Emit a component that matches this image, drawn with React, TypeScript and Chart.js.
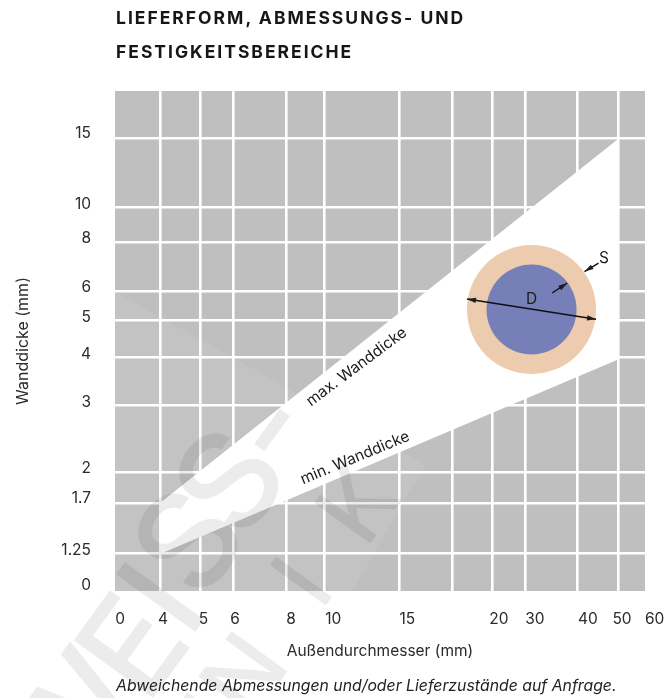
import React, { useEffect, useRef } from "react";
import { Chart, registerables, LogarithmicScale } from "chart.js";

// ---- data ----
const xTickValues = [3.11, 4, 5, 6, 8, 10, 15, 20, 25, 30, 40, 50, 58];
const xTickLabels = ["0", "4", "5", "6", "8", "10", "15", "", "20", "30", "40", "50", "60"];
const yTickValues = [1, 1.25, 1.7, 2, 3, 4, 5, 6, 8, 10, 15];
const yTickLabels = ["0", "1.25", "1.7", "2", "3", "4", "5", "6", "8", "10", "15"];
const maxWall = [
  { x: 4, y: 1.7 },
  { x: 50, y: 15 },
];
const minWall = [
  { x: 4, y: 1.25 },
  { x: 50, y: 4 },
];
const tubeCentre = [{ x: 31, y: 5.4 }];
const maxLabelAt = { x: 11.8, y: 3.83 };
const minLabelAt = { x: 11.7, y: 2.22 };

// ---- layout tuning ----
const gridNudge: Record<string, number[]> = {
  x: [0, 0, -0.9, -1.2, -0.3, -2.6, -1, 0, -0.2, -0.3, 0, 0, 0],
  y: [0, -0.5, 0.9, -2.6, -1.9, -2.3, -1.7, -0.7, -1.6, 1, -0.3],
};
const labelNudge: Record<string, number[]> = {
  x: [0.3, -2.5, -1.3, -2.7, 0.3, 1.3, 0.5, 0, -3, 0, 0.4, -5.7, 0],
  y: [-6, -3, -4.6, -4.4, -3.7, -3, -3.7, -3.6, -3.6, -3.4, -5],
};
const FONT = "Inter, 'Noto Sans', sans-serif";
const INK = "#2b2b2b";
const TEXT_SIZE = 15.5;

// Faint watermark letters lying over the whole picture.
const markLarge: [string, number, number][] = [
  ["W", 72, 722],
  ["E", 131, 645],
  ["I", 160, 597],
  ["S", 187, 540],
  ["S", 228, 480],
];
const markHyphen: [string, number, number] = ["-", 275, 432];
const markSmall: [string, number, number][] = [
  ["H", 199, 735],
  ["N", 243, 674],
  ["I", 301, 581],
  ["K", 357, 503],
];

class NudgedLogScale extends (LogarithmicScale as any) {
  static id = "nudgedLog";
  static defaults = (LogarithmicScale as any).defaults;
  getPixelForTick(i: number) {
    return super.getPixelForTick(i) + (gridNudge[this.axis]?.[i] ?? 0);
  }
  _computeLabelItems(area: any) {
    const items = super._computeLabelItems(area);
    const n = labelNudge[this.axis];
    items.forEach((it: any, i: number) => {
      it.options.translation[this.axis === "x" ? 0 : 1] += n?.[i] ?? 0;
    });
    return items;
  }
}

Chart.register(...registerables, NudgedLogScale as any);

function arrowHead(ctx: CanvasRenderingContext2D, x: number, y: number, ang: number, len = 9, w = 2.6) {
  ctx.save();
  ctx.translate(x, y);
  ctx.rotate(ang);
  ctx.beginPath();
  ctx.moveTo(0, 0);
  ctx.lineTo(-len, -w);
  ctx.lineTo(-len, w);
  ctx.closePath();
  ctx.fill();
  ctx.restore();
}

function arrow(ctx: CanvasRenderingContext2D, x0: number, y0: number, x1: number, y1: number, both: boolean) {
  ctx.beginPath();
  ctx.moveTo(x0, y0);
  ctx.lineTo(x1, y1);
  ctx.stroke();
  const a = Math.atan2(y1 - y0, x1 - x0);
  arrowHead(ctx, x1, y1, a);
  if (both) arrowHead(ctx, x0, y0, a + Math.PI);
}

const backdrop = {
  id: "backdrop",
  beforeDraw(chart: any) {
    const { ctx, chartArea: a } = chart;
    ctx.save();
    ctx.fillStyle = "#bfbfbf";
    ctx.fillRect(a.left, a.top, a.right - a.left, a.bottom - a.top);
    // faint lighter facet inside the plot
    ctx.beginPath();
    ctx.moveTo(a.left, a.top + 201);
    ctx.lineTo(a.left + 310, a.top + 374);
    ctx.lineTo(a.left + 237, a.bottom);
    ctx.lineTo(a.left, a.bottom);
    ctx.closePath();
    ctx.fillStyle = "rgba(255,255,255,0.07)";
    ctx.fill();
    ctx.restore();
  },
  afterDraw(chart: any) {
    const { ctx } = chart;
    ctx.save();
    ctx.fillStyle = "rgba(0,0,0,0.075)";
    ctx.textBaseline = "alphabetic";
    ctx.textAlign = "center";
    const glyph = (g: [string, number, number], size: number, weight: number, drop: number) => {
      ctx.save();
      ctx.translate(g[1], g[2]);
      ctx.rotate((-54 * Math.PI) / 180);
      ctx.font = `${weight} ${size}px ${FONT}`;
      ctx.fillText(g[0], 0, size * drop);
      ctx.restore();
    };
    markLarge.forEach((g) => glyph(g, 135, 500, 0.364));
    glyph(markHyphen, 135, 500, 0.28);
    markSmall.forEach((g) => glyph(g, 95, 500, 0.364));
    ctx.restore();
  },
};

const notes = {
  id: "notes",
  afterDatasetsDraw(chart: any) {
    const { ctx, scales } = chart;
    const px = (p: { x: number; y: number }) => [scales.x.getPixelForValue(p.x), scales.y.getPixelForValue(p.y)];
    const slope = (line: { x: number; y: number }[]) => {
      const [x0, y0] = px(line[0]);
      const [x1, y1] = px(line[1]);
      return Math.atan2(y1 - y0, x1 - x0);
    };
    ctx.save();
    ctx.fillStyle = "#1c1c1c";
    ctx.strokeStyle = "#111";
    ctx.lineWidth = 1.4;
    ctx.textAlign = "center";
    ctx.textBaseline = "middle";
    ctx.font = `${TEXT_SIZE}px ${FONT}`;
    const label = (t: string, p: { x: number; y: number }, a: number) => {
      const [x, y] = px(p);
      ctx.save();
      ctx.translate(x, y);
      ctx.rotate(a);
      ctx.fillText(t, 0, 0);
      ctx.restore();
    };
    label("max. Wanddicke", maxLabelAt, slope(maxWall) + 0.03);
    label("min. Wanddicke", minLabelAt, slope(minWall) + 0.01);

    const [cx, cy] = px(tubeCentre[0]);
    ctx.fillText("D", cx, cy - 10);
    ctx.fillText("S", cx + 72.5, cy - 51);
    arrow(ctx, cx - 64.5, cy - 10.5, cx + 64.5, cy + 9.7, true);
    arrow(ctx, cx + 67, cy - 46.5, cx + 53, cy - 38, false);
    arrow(ctx, cx + 20.7, cy - 16.5, cx + 35.7, cy - 26.5, false);
    ctx.restore();
  },
};

export default function App() {
  const ref = useRef<HTMLCanvasElement>(null);
  useEffect(() => {
    document.body.style.margin = "0";
    const chart = new Chart(ref.current as any, {
      type: "line",
      data: {
        datasets: [
          { label: "max. Wanddicke", data: maxWall, borderWidth: 0, pointRadius: 0, tension: 0, fill: "+1", backgroundColor: "#ffffff", order: 2 },
          { label: "min. Wanddicke", data: minWall, borderWidth: 0, pointRadius: 0, tension: 0, fill: false, order: 3 },
          { label: "D", data: tubeCentre, showLine: false, pointRadius: 64.5, pointBackgroundColor: "#eccbae", pointBorderWidth: 0, order: 1 },
          { label: "D - 2S", data: tubeCentre, showLine: false, pointRadius: 45, pointBackgroundColor: "#767fb8", pointBorderWidth: 0, order: 0 },
        ],
      } as any,
      options: {
        animation: false,
        responsive: false,
        layout: { autoPadding: false, padding: { left: 0, top: 91, right: 27, bottom: 0 } },
        plugins: { legend: { display: false }, tooltip: { enabled: false } },
        scales: {
          x: {
            type: "nudgedLog",
            min: xTickValues[0],
            max: xTickValues[xTickValues.length - 1],
            afterBuildTicks: (s: any) => {
              s.ticks = xTickValues.map((value) => ({ value }));
            },
            afterFit: (s: any) => {
              s.height = 107;
              s.paddingLeft = 0;
              s.paddingRight = 0;
            },
            border: { display: false },
            grid: {
              color: (c: any) => (c.index === 0 || c.index === xTickValues.length - 1 ? "rgba(0,0,0,0)" : "#ffffff"),
              lineWidth: 2.6,
              drawTicks: false,
            },
            ticks: {
              autoSkip: false,
              maxRotation: 0,
              align: "start",
              padding: 19,
              color: INK,
              font: { family: FONT, size: TEXT_SIZE },
              callback: (_v: any, i: number) => xTickLabels[i],
            },
            title: {
              display: true,
              text: "Außendurchmesser (mm)",
              color: INK,
              font: { family: FONT, size: TEXT_SIZE },
              padding: { top: 0, bottom: 37 },
            },
          },
          y: {
            type: "nudgedLog",
            min: 1,
            max: 20,
            afterBuildTicks: (s: any) => {
              s.ticks = yTickValues.map((value) => ({ value }));
            },
            afterFit: (s: any) => {
              s.width = 115;
              s.paddingTop = 0;
              s.paddingBottom = 0;
            },
            border: { display: false },
            grid: {
              color: (c: any) => (c.index === 0 ? "rgba(0,0,0,0)" : "#ffffff"),
              lineWidth: 2.6,
              drawTicks: false,
            },
            ticks: {
              autoSkip: false,
              padding: 24,
              color: INK,
              font: { family: FONT, size: TEXT_SIZE },
              callback: (_v: any, i: number) => yTickLabels[i],
            },
            title: {
              display: true,
              text: "Wanddicke (mm)",
              color: INK,
              font: { family: FONT, size: 16 },
              padding: { top: 14, bottom: 0 },
            },
          },
        },
      } as any,
      plugins: [backdrop, notes],
    });
    return () => chart.destroy();
  }, []);

  return (
    <div style={{ position: "relative", width: 672, height: 698, overflow: "hidden" }}>
      <canvas ref={ref} width={672} height={698} style={{ display: "block" }} />
      <div
        style={{
          position: "absolute",
          left: 116,
          top: 0,
          font: `700 17.5px/34.7px ${FONT}`,
          letterSpacing: "2px",
          color: "#161616",
          whiteSpace: "nowrap",
          paddingTop: 0.5,
        }}
      >
        LIEFERFORM, ABMESSUNGS- UND
        <br />
        FESTIGKEITSBEREICHE
      </div>
      <div
        style={{
          position: "absolute",
          left: 116,
          top: 676,
          font: `italic 400 15.8px/20px ${FONT}`,
          color: "#222",
          whiteSpace: "nowrap",
        }}
      >
        Abweichende Abmessungen und/oder Lieferzustände auf Anfrage.
      </div>
    </div>
  );
}
